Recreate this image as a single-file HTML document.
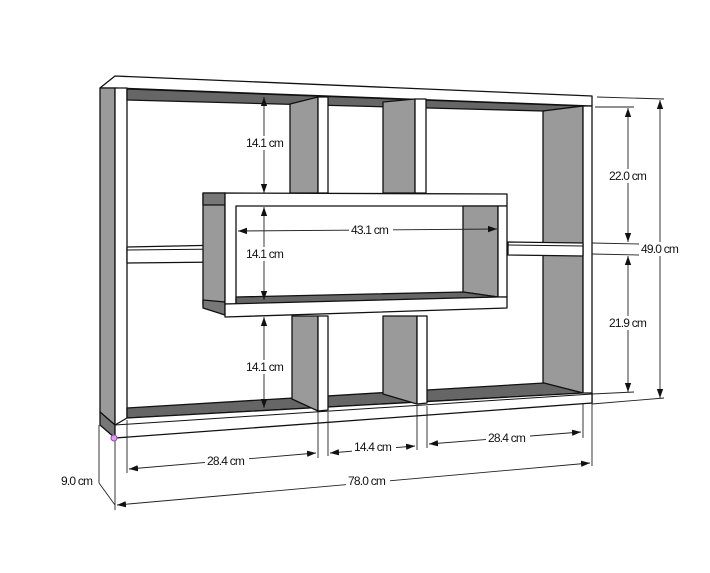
<!DOCTYPE html>
<html><head><style>
html,body{margin:0;padding:0;background:#fff;}
svg{display:block;}
text{font-family:"Liberation Sans",sans-serif;font-size:12px;fill:#111;letter-spacing:-0.8px;}
</style></head><body>
<svg width="710" height="573" viewBox="0 0 710 573" xmlns="http://www.w3.org/2000/svg">
<defs>
<marker id="a" viewBox="0 0 10 10" refX="10" refY="5" markerWidth="9" markerHeight="9" orient="auto-start-reverse" markerUnits="userSpaceOnUse"><path d="M0,1.5 L10,5 L0,8.5 z" fill="#111"/></marker>
</defs>
<g stroke="#111" stroke-width="1.3" stroke-linejoin="round">
<polygon points="100,88 115,76 592,96 592,106 115,88" fill="#fff"/>
<polygon points="100,88 115,88 115,425 100,412" fill="#9a9a9a"/>
<polygon points="100,412 115,425 115,438 100,425" fill="#777"/>
<polygon points="115,88 127,88 127,425 115,425" fill="#fff"/>
<polygon points="127,89 583,106 543,111 127,100" fill="#666"/>
<polygon points="543,111 583,106 583,393 543,383" fill="#9a9a9a"/>
<polygon points="583,106 592,106 592,403 583,403" fill="#fff"/>
<polygon points="127,408 544,383 583,393 127,418" fill="#666"/>
<polygon points="115,425 127,418 583,393 592,393 592,403 115,438" fill="#fff"/>
<line x1="115" y1="425" x2="592" y2="394" stroke-width="1"/>
<polygon points="290,104 318,97 318,193 290,193" fill="#9a9a9a"/>
<polygon points="318,97 328,97 328,193 318,193" fill="#fff"/>
<polygon points="383,102 415,99 415,193 383,193" fill="#9a9a9a"/>
<polygon points="415,99 426,99 426,193 415,193" fill="#fff"/>
<polygon points="292,316 318,316 318,411 292,399" fill="#9a9a9a"/>
<polygon points="318,316 328,316 328,410 318,411" fill="#fff"/>
<polygon points="383,316 417,316 417,404 383,394" fill="#9a9a9a"/>
<polygon points="417,316 427,316 427,403 417,404" fill="#fff"/>
<polygon points="127,247 225,245 225,262 127,263" fill="#fff"/>
<line x1="127" y1="250" x2="225" y2="249" stroke-width="1"/>
<polygon points="508,242 583,243 583,256 508,255" fill="#fff"/>
<line x1="508" y1="245" x2="583" y2="246" stroke-width="1"/>
<polygon points="203,193 225,193 225,315 203,305" fill="#9a9a9a"/>
<polygon points="203,193 225,193 225,205 203,205" fill="#777"/>
<polygon points="203,300 225,302 225,315 203,308" fill="#777"/>
<polygon points="225,193 507,194 507,206 236,206 236,304 225,304" fill="#fff"/>
<polygon points="463,206 498,206 498,297 463,292" fill="#9a9a9a"/>
<polygon points="236,297 463,292 498,297 236,304" fill="#666"/>
<polygon points="498,206 507,206 507,297 498,297" fill="#fff"/>
<polygon points="225,304 498,297 507,297 507,308 225,317" fill="#fff"/>
</g>
<g stroke="#222" stroke-width="0.9" fill="none">
<line x1="264" y1="97" x2="264" y2="193" marker-start="url(#a)" marker-end="url(#a)"/>
<line x1="264" y1="207" x2="264" y2="300" marker-start="url(#a)" marker-end="url(#a)"/>
<line x1="264" y1="317" x2="264" y2="408" marker-start="url(#a)" marker-end="url(#a)"/>
<line x1="238" y1="231" x2="497" y2="229" marker-start="url(#a)" marker-end="url(#a)"/>
<line x1="597" y1="97" x2="664" y2="99"/>
<line x1="595" y1="107" x2="634" y2="107"/>
<line x1="592" y1="243" x2="640" y2="244"/>
<line x1="592" y1="254" x2="640" y2="255"/>
<line x1="592" y1="394" x2="634" y2="392"/>
<line x1="592" y1="404" x2="664" y2="398"/>
<line x1="628" y1="108" x2="628" y2="242" marker-start="url(#a)" marker-end="url(#a)"/>
<line x1="628" y1="256" x2="628" y2="392" marker-start="url(#a)" marker-end="url(#a)"/>
<line x1="660" y1="100" x2="660" y2="398" marker-start="url(#a)" marker-end="url(#a)"/>
<line x1="127" y1="420" x2="127" y2="473"/>
<line x1="318" y1="412" x2="318" y2="458"/>
<line x1="328" y1="412" x2="328" y2="456"/>
<line x1="417" y1="406" x2="417" y2="450"/>
<line x1="427" y1="406" x2="427" y2="448"/>
<line x1="583" y1="403" x2="583" y2="438"/>
<line x1="592" y1="403" x2="592" y2="466"/>
<line x1="115" y1="438" x2="115" y2="510"/>
<line x1="99" y1="425" x2="99" y2="483"/>
<line x1="99" y1="483" x2="115" y2="505"/>
<line x1="129" y1="469" x2="316" y2="453" marker-start="url(#a)" marker-end="url(#a)"/>
<line x1="330" y1="453" x2="415" y2="446" marker-start="url(#a)" marker-end="url(#a)"/>
<line x1="429" y1="444" x2="581" y2="432" marker-start="url(#a)" marker-end="url(#a)"/>
<line x1="117" y1="505" x2="590" y2="463" marker-start="url(#a)" marker-end="url(#a)"/>
</g>
<circle cx="114" cy="438" r="3" fill="#d9a3e8" stroke="#a040c0" stroke-width="1"/>
<g>
<rect x="244" y="136" width="42" height="14" fill="#fff"/><text x="246" y="147">14.1 cm</text>
<rect x="244" y="247" width="42" height="14" fill="#fff"/><text x="246" y="258">14.1 cm</text>
<rect x="244" y="360" width="42" height="14" fill="#fff"/><text x="246" y="371">14.1 cm</text>
<rect x="349" y="223" width="44" height="14" fill="#fff"/><text x="351" y="234">43.1 cm</text>
<rect x="607" y="169" width="44" height="14" fill="#fff"/><text x="609" y="180">22.0 cm</text>
<rect x="607" y="316" width="44" height="14" fill="#fff"/><text x="609" y="327">21.9 cm</text>
<rect x="639" y="242" width="44" height="14" fill="#fff"/><text x="641" y="253">49.0 cm</text>
<rect x="205" y="454" width="44" height="14" fill="#fff"/><text x="207" y="465">28.4 cm</text>
<rect x="352" y="440" width="44" height="14" fill="#fff"/><text x="354" y="451">14.4 cm</text>
<rect x="486" y="431" width="44" height="14" fill="#fff"/><text x="488" y="442">28.4 cm</text>
<rect x="346" y="474" width="44" height="14" fill="#fff"/><text x="348" y="485">78.0 cm</text>
<text x="61" y="485">9.0 cm</text>
</g>
</svg>
</body></html>
